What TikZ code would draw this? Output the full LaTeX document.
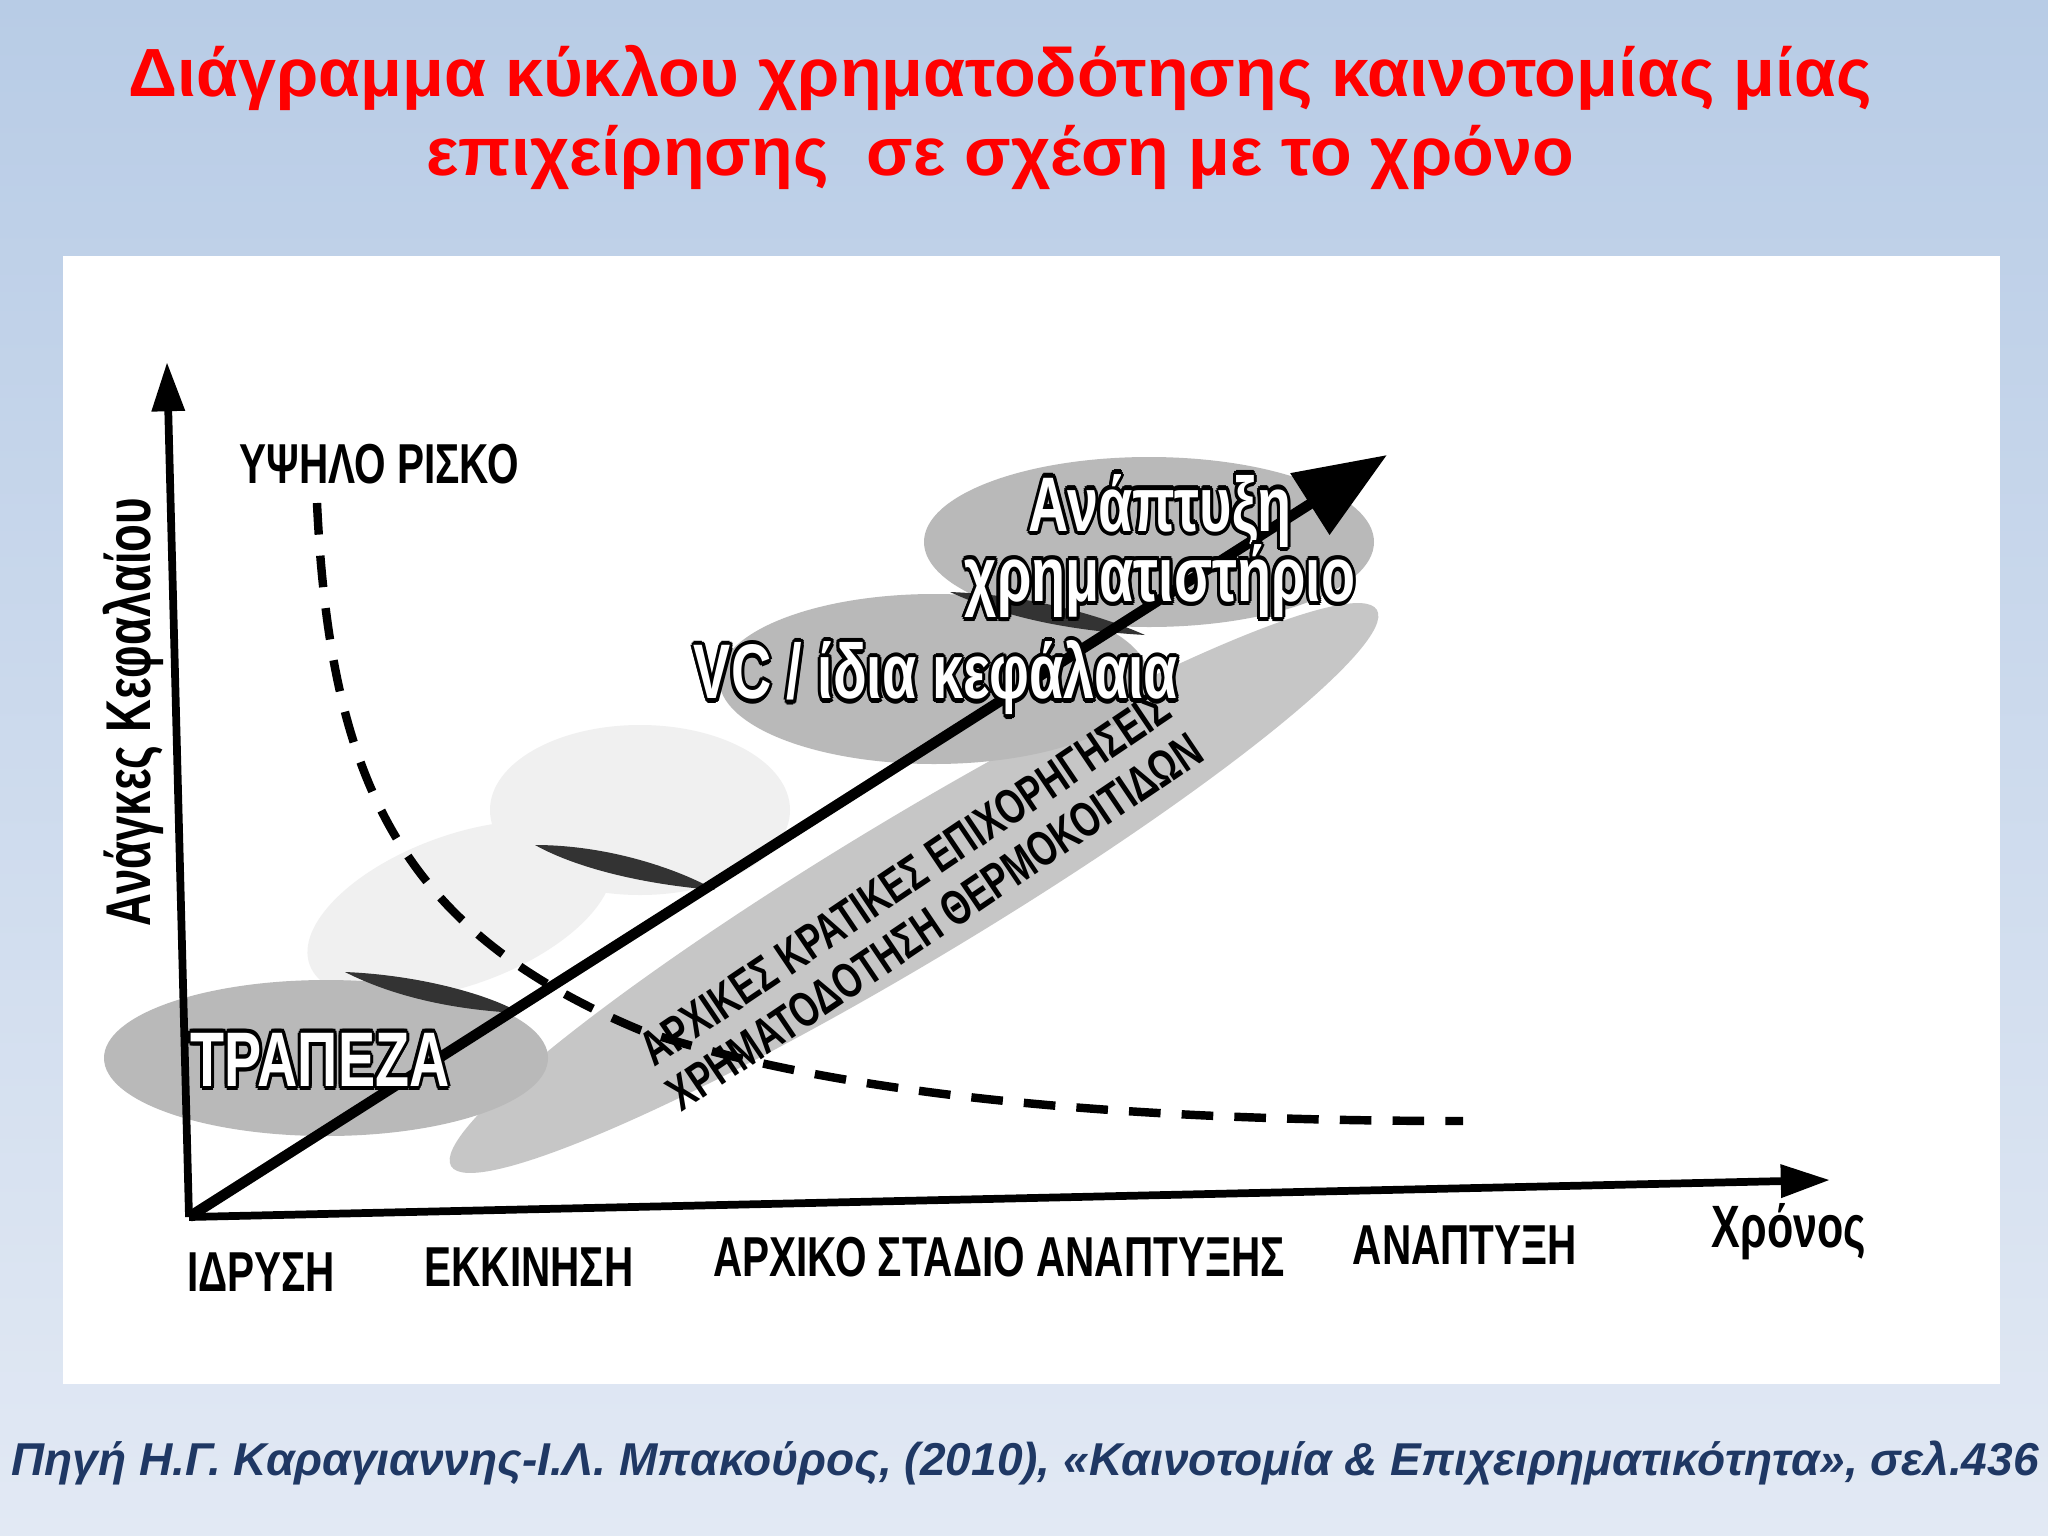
\documentclass[tikz,border=0pt]{standalone}
\usepackage{fontspec}
\setmainfont{Liberation Sans}
\usepackage{contour}
\contourlength{1.2pt}
\contournumber{12}
\usetikzlibrary{arrows.meta,shapes.geometric}
\definecolor{titlered}{HTML}{FF0000}
\definecolor{srcblue}{HTML}{1F3864}
\definecolor{bgtop}{HTML}{B8CCE6}
\definecolor{bgbot}{HTML}{E2E9F4}
\tikzset{
  lbl/.style={font=\bfseries\fontsize{16}{20}\selectfont, text=black},
  blob/.style={fill=gray!55, draw=none},
  faint/.style={fill=gray!12, draw=none},
  leaf/.style={fill=black!80, draw=none},
  otext/.style={font=\bfseries\fontsize{22}{24}\selectfont},
}
\newcommand{\nar}[1]{\scalebox{0.72}[1]{#1}}
\newcommand{\outl}[1]{\contour{black}{\textcolor{white}{#1}}}
\begin{document}
\begin{tikzpicture}[x=0.01cm,y=-0.01cm]
\useasboundingbox (0,0) rectangle (2048,1536);
\shade[top color=bgtop, bottom color=bgbot] (0,0) rectangle (2048,1536);
\fill[white] (63,256) rectangle (2000,1384);
% titles
\node[font=\bfseries\fontsize{19.4}{24}\selectfont, text=titlered] (t1) at (1000,78) {Διάγραμμα κύκλου χρηματοδότησης καινοτομίας μίας};
\node[font=\bfseries\fontsize{19.4}{24}\selectfont, text=titlered] (t2) at (1000,157) {επιχείρησης\ \ σε σχέση με το χρόνο};
\node[font=\bfseries\itshape\fontsize{13.1}{16}\selectfont, text=srcblue] (src) at (1025,1463) {Πηγή Η.Γ. Καραγιαννης-Ι.Λ. Μπακούρος, (2010), «Καινοτομία \& Επιχειρηματικότητα», σελ.436};
% faint blobs
\fill[faint] (640,810) ellipse[x radius=150,y radius=85];
\fill[faint, rotate around={20:(460,910)}] (460,910) ellipse[x radius=160,y radius=75];
% big band
\fill[gray!45, rotate around={31:(914,888)}] (914,888) ellipse[x radius=540,y radius=72];
% bank
\fill[blob] (326,1058) ellipse[x radius=222,y radius=78];
% VC
\fill[blob] (934,679) ellipse[x radius=215,y radius=85];
% top
\fill[blob] (1149,542) ellipse[x radius=225,y radius=85];
% leaves
\fill[leaf] (535,845) .. controls (610,845) and (680,870) .. (715,890) .. controls (650,885) and (580,870) .. cycle;
\fill[leaf] (345,972) .. controls (420,975) and (490,995) .. (520,1013) .. controls (450,1010) and (390,995) .. cycle;
\fill[leaf] (950,592) .. controls (1030,595) and (1100,615) .. (1145,635) .. controls (1060,630) and (1000,615) .. cycle;
% axes
\coordinate (o) at (189,1217);
\coordinate (ytop) at (167,362);
\coordinate (xend) at (1830,1180);
\coordinate (dend) at (1387,455);
\draw[line width=2.2pt,-{Triangle[length=14pt,width=9pt]}] (o) -- (ytop);
\draw[line width=2.2pt,-{Triangle[length=14pt,width=9pt]}] (o) -- (xend);
\draw[line width=3pt,-{Triangle[length=26pt,width=20pt]}] (o) -- (dend);
% dashed curve
\coordinate (c0) at (317,503);
\coordinate (c1) at (1463,1121);
\draw[line width=2.4pt, dash pattern=on 9pt off 6pt] (c0) .. controls (330,780) and (400,930) .. (640,1030) .. controls (850,1100) and (1150,1121) .. (c1);
% labels
\node[lbl] (risk) at (379,464) {\nar{ΥΨΗΛΟ ΡΙΣΚΟ}};
\node[lbl, rotate=90, font=\bfseries\fontsize{18}{20}\selectfont] (need) at (133,712) {\nar{Ανάγκες Κεφαλαίου}};
\node[lbl] (l1) at (261,1272) {\nar{ΙΔΡΥΣΗ}};
\node[lbl] (l2) at (529,1267) {\nar{ΕΚΚΙΝΗΣΗ}};
\node[lbl] (l3) at (999,1257) {\nar{ΑΡΧΙΚΟ ΣΤΑΔΙΟ ΑΝΑΠΤΥΞΗΣ}};
\node[lbl] (l4) at (1465,1245) {\nar{ΑΝΑΠΤΥΞΗ}};
\node[lbl, font=\bfseries\fontsize{17}{20}\selectfont] (l5) at (1789,1232) {\nar{Χρόνος}};
% band text
\node[font=\bfseries\fontsize{14}{16}\selectfont, align=center, rotate=34] (band) at (920,900) {\nar{ΑΡΧΙΚΕΣ ΚΡΑΤΙΚΕΣ ΕΠΙΧΟΡΗΓΗΣΕΙΣ}\\[-1pt]\nar{ΧΡΗΜΑΤΟΔΟΤΗΣΗ ΘΕΡΜΟΚΟΙΤΙΔΩΝ}};
% blob texts
\node[otext] (bank) at (320,1062) {\nar{\outl{ΤΡΑΠΕΖΑ}}};
\node[otext] (vc) at (936,680) {\nar{\outl{VC / ίδια κεφάλαια}}};
\node[otext, align=center] (top) at (1160,548) {\nar{\outl{Ανάπτυξη}}\\[-4pt]\nar{\outl{χρηματιστήριο}}};
\end{tikzpicture}
\end{document}
